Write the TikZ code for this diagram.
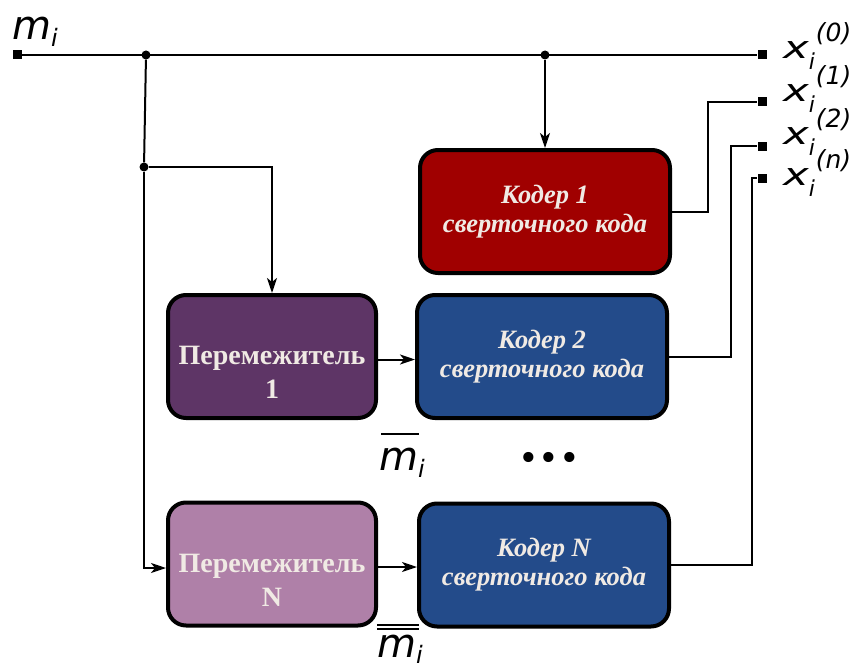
\documentclass[tikz,border=0pt]{standalone}
\usepackage{graphicx}
\usepackage{fontspec}
\setmainfont{Liberation Serif}
\newfontfamily\labfont{DejaVu Sans}
\usetikzlibrary{arrows.meta}

\definecolor{coderred}{HTML}{A00000}
\definecolor{coderblue}{HTML}{234B8A}
\definecolor{mixdark}{HTML}{5E3566}
\definecolor{mixlight}{HTML}{AF80A8}
\definecolor{boxtxt}{HTML}{F0EAE4}

% signal labels: letter x, subscript i and a superscript index
\newcommand{\sig}[1]{%
  {\labfont\itshape\fontsize{31}{34}\selectfont\scalebox{1.4}[1]{x}}%
  \rlap{\raisebox{-11pt}{\labfont\itshape\fontsize{22}{24}\selectfont i}}%
  \hspace{7pt}%
  \raisebox{17pt}{\labfont\itshape\fontsize{25}{27}\selectfont (#1)}}

\begin{document}
\begin{tikzpicture}[x=1pt,y=-1pt,
  blk/.style={draw=black, line width=4pt, rounded corners=18pt,
    minimum width=250pt, minimum height=123pt, inner sep=0pt,
    align=center, text=boxtxt},
  coder/.style={blk, font=\fontsize{26.5}{29}\selectfont\bfseries\itshape},
  mixer/.style={blk, minimum width=208pt},
  mixtxt/.style={inner sep=0pt, align=center, text=boxtxt,
    font=\fontsize{28}{34}\selectfont\bfseries},
  wire/.style={line width=2pt},
  arr/.style={wire, -{Stealth[length=15pt,width=10pt,inset=4pt]}},
  dot/.style={circle, fill=black, minimum size=9pt, inner sep=0pt},
  term/.style={rectangle, fill=black, minimum size=9pt, inner sep=0pt},
  lab/.style={inner sep=0pt, anchor=base west}]
\useasboundingbox (0,0) rectangle (856,666);

% blocks
\node[coder, fill=coderred]  (c1) at (545,211.5) {Кодер 1\\сверточного кода};
\node[mixer, fill=mixdark]   (p1) at (272,356.5) {};
\node[coder, fill=coderblue] (c2) at (542,356.5) {Кодер 2\\сверточного кода};
\node[mixer, fill=mixlight]  (pN) at (272,564)   {};
\node[coder, fill=coderblue] (cN) at (544,565)   {Кодер N\\сверточного кода};
\node[mixtxt] (p1t) at ([yshift=-16pt]p1.center) {Перемежитель\\1};
\node[mixtxt] (pNt) at ([yshift=-16pt]pN.center) {Перемежитель\\N};

% terminals and branch points
\node[term] (in) at (17,55)  {};
\node[term] (o0) at (762,55) {};
\node[term] (o1) at (762,102) {};
\node[term] (o2) at (762,146) {};
\node[term] (on) at (762,178) {};
\node[dot] (j1) at (146,55)  {};
\node[dot] (j2) at (144,167) {};
\node[dot] (j3) at (545,55)  {};

% connections
\draw[wire] (in) -- (o0);
\draw[wire] (j1) -- (j2);
\draw[arr] (j2) -| (p1.north);
\draw[arr] (j2) |- ([yshift=-4pt]pN.west);
\draw[arr] (j3) -- (j3 |- c1.north);
\draw[arr] ([yshift=-3pt]p1.east) -- ([yshift=-3pt]p1.east -| c2.west);
\draw[arr] ([yshift=-3pt]pN.east) -- ([yshift=-3pt]pN.east -| cN.west);
\draw[wire] (c1.east) -- ++(36,0) |- (o1);
\draw[wire] (c2.east) -- ++(62,0) |- (o2);
\draw[wire] (cN.east) -- ++(81,0) |- (on);

% labels
\node[lab] (lm) at (12,40) {\labfont\itshape\fontsize{40}{44}\selectfont m%
  \raisebox{-7pt}{\fontsize{24}{26}\selectfont i}};
\node[lab] (lx0) at (783,59) {\sig{0}};
\node[lab] (lx1) at (783,102) {\sig{1}};
\node[lab] (lx2) at (783,144) {\sig{2}};
\node[lab] (lxn) at (783,185) {\sig{n}};
\node[lab] (lmb) at (379,470) {\labfont\itshape\fontsize{40}{44}\selectfont
  \rlap{\hspace{2pt}\rule[35pt]{38pt}{2pt}}m%
  \raisebox{-7pt}{\fontsize{24}{26}\selectfont i}};
\node[lab] (lmbb) at (377,657) {\labfont\itshape\fontsize{40}{44}\selectfont
  \rlap{\rule[27pt]{42pt}{2pt}}\rlap{\rule[31pt]{42pt}{2pt}}m%
  \raisebox{-6pt}{\fontsize{24}{26}\selectfont i}};
\node[inner sep=0pt, font=\labfont\fontsize{35}{38}\selectfont] (dots)
  at (549,461) {•••};
\end{tikzpicture}
\end{document}
